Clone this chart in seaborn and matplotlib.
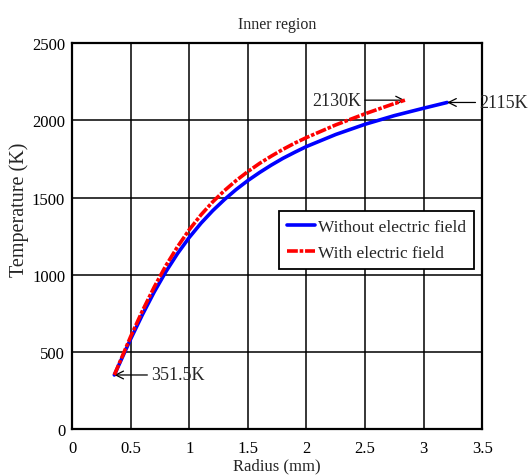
import matplotlib
matplotlib.use("Agg")
import matplotlib.pyplot as plt
import seaborn as sns
import pandas as pd

# Radial temperature profiles in the inner region
radius_no_field = [0.36, 0.5, 0.6, 0.7, 0.8, 0.9, 1.0, 1.1, 1.2, 1.3, 1.4, 1.5,
                   1.6, 1.7, 1.8, 1.9, 2.0, 2.25, 2.5, 2.75, 3.0, 3.2]
temp_no_field = [351.5, 585, 742, 888, 1020, 1138, 1242, 1334, 1415, 1487, 1552, 1610,
                 1662, 1710, 1754, 1793, 1830, 1908, 1974, 2030, 2078, 2115]

radius_field = [0.36, 0.5, 0.6, 0.7, 0.8, 0.9, 1.0, 1.1, 1.2, 1.3, 1.4, 1.5,
                1.6, 1.7, 1.8, 1.9, 2.0, 2.25, 2.5, 2.75, 2.84]
temp_field = [351.5, 601, 767, 920, 1059, 1182, 1292, 1388, 1472, 1545, 1610, 1668,
              1721, 1768, 1812, 1852, 1888, 1970, 2042, 2108, 2130]

series_names = ["Without electric field", "With electric field"]
x_ticks = [0, 0.5, 1, 1.5, 2, 2.5, 3, 3.5]
x_tick_labels = ["0", "0.5", "1", "1.5", "2", "2.5", "3", "3.5"]
y_ticks = [0, 500, 1000, 1500, 2000, 2500]

sns.set_theme(style="white")
plt.rcParams["font.family"] = ["Liberation Serif", "DejaVu Serif"]

df_a = pd.DataFrame({"r": radius_no_field, "T": temp_no_field})
df_b = pd.DataFrame({"r": radius_field, "T": temp_field})

fig = plt.figure(figsize=(5.28, 4.77), dpi=100)
ax = fig.add_axes([0.1366, 0.0979, 0.7768, 0.8099])

sns.lineplot(data=df_a, x="r", y="T", ax=ax, color="#0000ff", lw=2.6,
             sort=False, label=series_names[0], zorder=3)
sns.lineplot(data=df_b, x="r", y="T", ax=ax, color="#ff0000", lw=2.6,
             sort=False, label=series_names[1], zorder=4,
             linestyle=(0, (3.0, 0.5, 1.0, 0.5)))

ax.set_xlim(0, 3.5)
ax.set_ylim(0, 2500)
ax.set_xticks(x_ticks)
ax.set_xticklabels(x_tick_labels)
ax.set_yticks(y_ticks)
ax.tick_params(axis="both", labelsize=12, length=0, colors="black")
ax.tick_params(axis="x", pad=8)
ax.tick_params(axis="y", pad=5)
ax.grid(True, color="black", lw=1.1)
for s in ax.spines.values():
    s.set_color("black")
    s.set_linewidth(1.6)

ax.set_title("Inner region", fontsize=11.5, pad=11)
ax.set_xlabel("Radius (mm)", fontsize=12, labelpad=1)
ax.set_ylabel("Temperature (K)", fontsize=14.5)
ax.yaxis.set_label_coords(-0.105, 0.57)

arrow = dict(arrowstyle="->", color="black", lw=0.9, shrinkA=0, shrinkB=0,
             mutation_scale=14)
ax.annotate("351.5K", xy=(radius_no_field[0], temp_no_field[0]),
            xytext=(0.67, temp_no_field[0]), fontsize=13, ha="left", va="center",
            arrowprops=arrow)
ax.annotate("2130K", xy=(radius_field[-1], temp_field[-1]),
            xytext=(2.47, temp_field[-1]), fontsize=13, ha="right", va="center",
            arrowprops=arrow)
ax.annotate("2115K", xy=(radius_no_field[-1], temp_no_field[-1]),
            xytext=(3.47, temp_no_field[-1]), fontsize=13, ha="left", va="center",
            arrowprops=arrow, annotation_clip=False)

leg = ax.legend(loc="upper left", bbox_to_anchor=(0.505, 0.566), borderaxespad=0,
                fontsize=12.5, frameon=True, fancybox=False, framealpha=1,
                edgecolor="black", handlelength=1.6, handletextpad=0.2,
                borderpad=0.45, labelspacing=0.6)
leg.get_frame().set_linewidth(1.3)

fig.savefig("out.png", dpi=100)
